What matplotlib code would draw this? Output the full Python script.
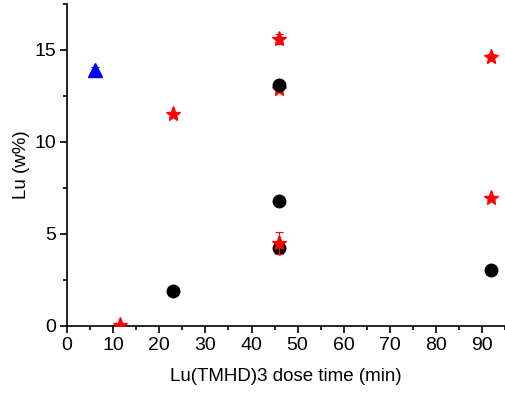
import matplotlib
matplotlib.use('Agg')
import matplotlib.pyplot as plt
from matplotlib.ticker import MultipleLocator

plt.rcParams['font.family'] = ['Liberation Sans', 'DejaVu Sans']

# blue triangles
tri_x = [6]
tri_y = [13.9]
tri_err = [0.2]

# red stars (the one hidden behind the black circle at 46 min)
star_low_x = [46]
star_low_y = [12.9]
star_low_err = [0.2]

# red stars drawn on top
star_x = [11.5, 23, 46, 46, 92, 92]
star_y = [0.05, 11.5, 15.6, 4.5, 14.6, 6.95]
star_err = [0.05, 0.15, 0.25, 0.6, 0.2, 0.1]

# black circles
circ_x = [23, 46, 46, 46, 92]
circ_y = [1.9, 13.1, 6.8, 4.2, 3.05]
circ_err = [0.1, 0.2, 0.25, 0.25, 0.1]

fig = plt.figure(figsize=(5.05, 4.03), dpi=100)
ax = fig.add_axes([0.133, 0.192, 0.867, 0.798])

ax.errorbar(tri_x, tri_y, yerr=tri_err, fmt='^', color='#0000ff', ms=9.5,
            capsize=3, elinewidth=0.8, capthick=0.8, zorder=3)
ax.errorbar(star_low_x, star_low_y, yerr=star_low_err, fmt='*', color='#ff0000', ms=11,
            capsize=3, elinewidth=0.8, capthick=0.8, zorder=2)
ax.errorbar(circ_x, circ_y, yerr=circ_err, fmt='o', color='black', ms=9,
            capsize=3, elinewidth=0.8, capthick=0.8, zorder=3)
ax.errorbar(star_x, star_y, yerr=star_err, fmt='*', color='#ff0000', ms=11,
            capsize=3, elinewidth=0.8, capthick=0.8, zorder=4)

ax.set_xlim(0, 95)
ax.set_ylim(0, 17.5)
ax.xaxis.set_major_locator(MultipleLocator(10))
ax.xaxis.set_minor_locator(MultipleLocator(5))
ax.yaxis.set_major_locator(MultipleLocator(5))
ax.yaxis.set_minor_locator(MultipleLocator(2.5))
ax.tick_params(which='major', length=5, width=1.2, labelsize=14, direction='out', pad=3)
ax.tick_params(which='minor', length=3, width=1.2, direction='out')

ax.spines['top'].set_visible(False)
ax.spines['right'].set_visible(False)
ax.spines['left'].set_linewidth(1.2)
ax.spines['bottom'].set_linewidth(1.2)

ax.set_xlabel('Lu(TMHD)3 dose time (min)', fontsize=13.5, labelpad=10)
ax.set_ylabel('Lu (w%)', fontsize=13.5, labelpad=3)

fig.savefig('out.png', dpi=100)
